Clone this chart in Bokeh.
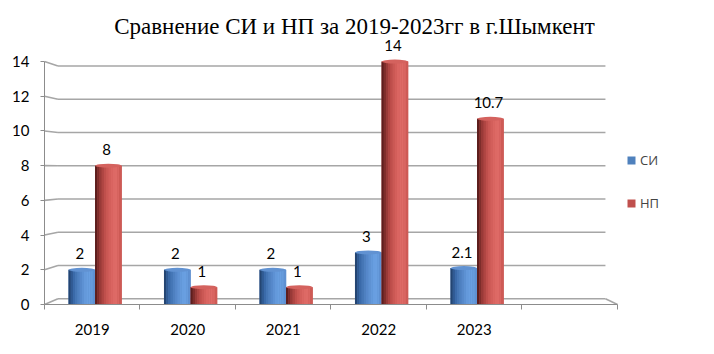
from bokeh.plotting import figure
from bokeh.models import FixedTicker, Label, Legend, LegendItem
from bokeh.core.properties import value
from bokeh.embed import file_html
from bokeh.resources import INLINE

# ---------------- data ----------------
years = ["2019", "2020", "2021", "2022", "2023"]
series_names = ["СИ", "НП"]
si_values = [2, 2, 2, 3, 2.1]
np_values = [8, 1, 1, 14, 10.7]
si_labels = ["2", "2", "2", "3", "2.1"]
np_labels = ["8", "1", "1", "14", "10.7"]
y_ticks = [0, 2, 4, 6, 8, 10, 12, 14]
title_text = "Сравнение СИ и НП за 2019-2023гг в г.Шымкент"

# ---------------- style ----------------
N_SLOTS = 6
X_END = 7.016
Y_END = 17.23
BAR_W = 0.278
SHIFT = 0.03
GRID = "#a6a6a6"
AXIS = "#8c8c8c"
NUM_FONT = "Lato"

blue_stops = ["#1f3a62", "#3565a3", "#4a7bbb", "#5a8dcf", "#679ddf", "#6aa0e2", "#5b8ccc"]
red_stops = ["#4d1716", "#8e3432", "#b94b48", "#d05c58", "#dd6864", "#de6b67", "#c9544f"]


def hex2rgb(h):
    return tuple(int(h[i:i + 2], 16) for i in (1, 3, 5))


def grad(stops, t):
    pos = t * (len(stops) - 1)
    i = min(int(pos), len(stops) - 2)
    f = pos - i
    a, b = hex2rgb(stops[i]), hex2rgb(stops[i + 1])
    return "#%02x%02x%02x" % tuple(round(a[k] + (b[k] - a[k]) * f) for k in range(3))


p = figure(width=714, height=354, x_range=(0, X_END), y_range=(0, Y_END),
           output_backend="svg", toolbar_location=None, title=None,
           min_border_left=44, min_border_right=0, min_border_top=5, min_border_bottom=50)
p.outline_line_color = None
p.xgrid.visible = False
p.ygrid.visible = False
p.background_fill_color = "white"
p.border_fill_color = "white"

# ---- axes ----
centers = [i + 0.5 for i in range(len(years))]
p.xaxis.ticker = FixedTicker(ticks=centers, minor_ticks=list(range(N_SLOTS + 1)))
p.xaxis.major_label_overrides = {c: y for c, y in zip(centers, years)}
p.xaxis.bounds = (0, N_SLOTS)
p.xaxis.major_tick_out = 0
p.xaxis.major_tick_in = 0
p.xaxis.minor_tick_out = 5
p.xaxis.minor_tick_in = 0
p.xaxis.minor_tick_line_color = AXIS
p.xaxis.axis_line_color = AXIS
p.xaxis.major_label_standoff = 14

p.yaxis.ticker = FixedTicker(ticks=y_ticks, minor_ticks=[])
p.yaxis.bounds = (y_ticks[0], y_ticks[-1])
p.yaxis.major_tick_out = 4
p.yaxis.major_tick_in = 0
p.yaxis.minor_tick_out = 0
p.yaxis.major_tick_line_color = AXIS
p.yaxis.axis_line_color = AXIS
p.yaxis.major_label_standoff = 11

for ax in (p.xaxis, p.yaxis):
    ax.major_label_text_font = NUM_FONT
    ax.major_label_text_font_size = "15px"
    ax.major_label_text_color = "#000000"

# ---- 3D-ish back wall gridlines ----
BX0, BX1 = 0.141, 5.874
back = [0.328 + 0.958 * v for v in y_ticks]
n = len(y_ticks)
p.segment(x0=[0] * n, y0=y_ticks, x1=[BX0] * n, y1=back, line_color=GRID, line_width=1.6)
p.segment(x0=[BX0] * n, y0=back, x1=[BX1] * n, y1=back, line_color=GRID, line_width=1.6)
p.segment(x0=[BX1], y0=[back[0]], x1=[N_SLOTS], y1=[0], line_color=GRID, line_width=1.6)

# ---- cylinders ----
NSTRIP = 12
legend_renderers = []
for vals, labels, off, stops, mid, top in (
        (si_values, si_labels, -BAR_W / 2, blue_stops, "#4f81bd", "#6192d2"),
        (np_values, np_labels, BAR_W / 2, red_stops, "#c0504d", "#d4625e")):
    xs = [c + off + SHIFT for c in centers]
    base = p.vbar(x=xs, top=vals, width=BAR_W, fill_color=mid, line_color=None)
    legend_renderers.append(base)
    sw = BAR_W / NSTRIP
    for k in range(NSTRIP):
        col = grad(stops, (k + 0.5) / NSTRIP)
        p.vbar(x=[x - BAR_W / 2 + (k + 0.5) * sw for x in xs], top=vals, width=sw * 1.08,
               fill_color=col, line_color=None)
    p.ellipse(x=xs, y=vals, width=BAR_W * 0.98, height=4, height_units="screen",
              fill_color=top, line_color=None)
    p.text(x=[x - 0.02 for x in xs], y=vals, text=labels, text_align="center",
           text_baseline="middle", y_offset=-16, text_font=value(NUM_FONT),
           text_font_size="15px", text_color="#000000")

# ---- title ----
p.add_layout(Label(x=3.246, y=16.02, text=title_text, text_align="center",
                   text_baseline="alphabetic", text_font="Liberation Serif",
                   text_font_size="23px", text_color="#000000"))

# ---- legend ----
legend = Legend(items=[LegendItem(label=series_names[0], renderers=[legend_renderers[0]]),
                       LegendItem(label=series_names[1], renderers=[legend_renderers[1]])],
                location=(582, 91.5), glyph_width=10, glyph_height=10, label_height=20,
                spacing=23, padding=0, margin=0, border_line_color=None,
                background_fill_alpha=0, label_text_font="Open Sans",
                label_text_font_size="13px", label_standoff=4)
p.add_layout(legend)

open("out.html", "w").write(file_html(p, INLINE))
